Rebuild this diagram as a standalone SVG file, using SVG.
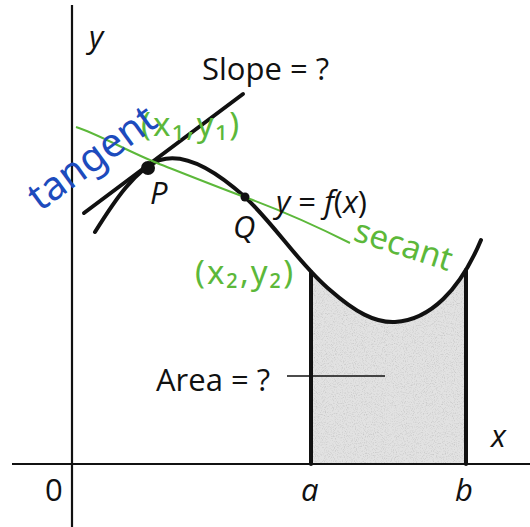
<svg xmlns="http://www.w3.org/2000/svg" width="530" height="527" viewBox="0 0 530 527">
<style>
.ax{stroke:#111;stroke-width:2.2;fill:none}
.thick{stroke:#111;stroke-width:4;fill:none;stroke-linecap:round}
.lbl{font-family:"Open Sans","Liberation Sans",sans-serif;fill:#111;font-size:31px}
.it{font-style:italic}
.gr{font-family:"Noto Sans","DejaVu Sans",sans-serif;fill:#5cb83a;font-size:33px}
.bl{font-family:"Noto Sans","DejaVu Sans",sans-serif;fill:#1d4bbd;font-size:40px}
</style>
<defs>
<clipPath id="under">
<path d="M95,232 C115,200 135,170 160,160 C185,152 215,170 245,197 C275,225 300,265 330,290 C355,312 375,323 395,322 C430,320 460,290 481,240 L481,464 L95,464 Z"/>
</clipPath>
<filter id="stip" x="0" y="0" width="1" height="1">
<feTurbulence type="fractalNoise" baseFrequency="0.9" numOctaves="2" seed="3" result="n"/>
<feColorMatrix in="n" type="matrix" values="0 0 0 0 0.55 0 0 0 0 0.55 0 0 0 0 0.55 0 0 0 2.2 -1.05" result="d"/>
<feFlood flood-color="#e2e2e2" result="bg"/>
<feMerge><feMergeNode in="bg"/><feMergeNode in="d"/></feMerge>
</filter>
</defs>
<rect width="530" height="527" fill="#fff"/>
<g id="area">
<rect x="311" y="200" width="155" height="264" fill="#e0e0e0" clip-path="url(#under)" filter="url(#stip)"/>
</g>
<g id="axes">
<line class="ax" x1="72" y1="5" x2="72" y2="527"/>
<line class="ax" x1="12" y1="464" x2="530" y2="464"/>
</g>
<g id="connectors">
<line class="thick" x1="311" y1="272" x2="311" y2="464" stroke-width="3.5"/>
<line class="thick" x1="466" y1="270" x2="466" y2="464" stroke-width="3.5"/>
<line class="thick" x1="84" y1="213" x2="243" y2="94" stroke-width="3.5"/>
<line x1="287" y1="376" x2="385" y2="376" stroke="#111" stroke-width="1.5"/>
<path class="thick" d="M95,232 C115,200 135,170 160,160 C185,152 215,170 245,197 C275,225 300,265 330,290 C355,312 375,323 395,322 C430,320 460,290 481,240"/>
<path d="M76,127 C100,135 125,150 157,163 C195,178 225,190 250,199 C285,212 320,228 350,243" fill="none" stroke="#5cb83a" stroke-width="2"/>
</g>
<g id="P">
<circle cx="148" cy="168" r="7" fill="#111"/>
<text class="lbl it" x="150" y="204">P</text>
</g>
<g id="Q">
<circle cx="245" cy="197" r="4.5" fill="#111"/>
<text class="lbl it" x="233" y="238">Q</text>
</g>
<g id="labels">
<text class="lbl it" x="89" y="48">y</text>
<text class="lbl" x="202" y="80">Slope = ?</text>
<text class="lbl" x="276" y="213"><tspan class="it">y</tspan> = <tspan class="it">f</tspan>(<tspan class="it">x</tspan>)</text>
<text class="lbl" x="156" y="391">Area = ?</text>
<text class="lbl it" x="491" y="447">x</text>
<text class="lbl" x="45" y="501">0</text>
<text class="lbl it" x="301" y="501">a</text>
<text class="lbl it" x="455" y="501">b</text>
</g>
<g id="handwriting">
<text class="gr" x="141" y="136" letter-spacing="2">(x₁,y₁)</text>
<text class="gr" x="195" y="284" letter-spacing="2">(x₂,y₂)</text>
<text class="gr" transform="translate(352,240) rotate(18)" font-size="30" letter-spacing="0">secant</text>
<text class="bl" transform="translate(40,212) rotate(-36)">tangent</text>
</g>
</svg>
